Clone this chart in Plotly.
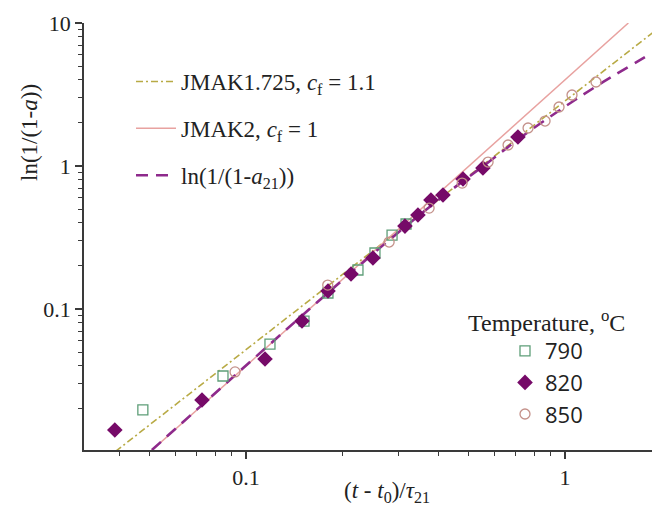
import plotly.graph_objects as go
import numpy as np

# ---- data ----
# 790 °C (open squares)
x790 = [0.0475, 0.0847, 0.1189, 0.152, 0.1807, 0.2244, 0.2537, 0.287, 0.3175]
y790 = [0.0197, 0.0340, 0.0569, 0.0824, 0.1294, 0.1874, 0.2464, 0.329, 0.393]
# 820 °C (filled diamonds)
x820 = [0.0388, 0.0728, 0.1147, 0.1498, 0.1808, 0.2134, 0.250, 0.315, 0.346, 0.380, 0.4145, 0.479, 0.553, 0.712]
y820 = [0.01426, 0.0231, 0.0447, 0.0824, 0.1336, 0.1757, 0.2274, 0.380, 0.454, 0.578, 0.627, 0.811, 0.968, 1.595]
# 850 °C (open circles)
x850 = [0.0924, 0.1804, 0.281, 0.375, 0.476, 0.574, 0.663, 0.766, 0.866, 0.958, 1.052, 1.251]
y850 = [0.0363, 0.147, 0.294, 0.508, 0.760, 1.066, 1.403, 1.844, 2.063, 2.585, 3.137, 3.868]

# model lines
x_jmak1725 = [0.039, 2.0]
y_jmak1725 = [0.0101, 9.5]
x_jmak2 = [0.05, 1.58]
y_jmak2 = [0.01, 10.0]
x_a21 = [0.0507, 0.1029, 0.1834, 0.3040, 0.4361, 0.5820, 0.7226, 0.9645, 1.287, 1.874]
y_a21 = [0.01033, 0.0426, 0.1336, 0.3511, 0.6686, 1.084, 1.570, 2.464, 3.745, 6.17]

x_ticks = [0.1, 1]
x_ticktext = ["0.1", "1"]
y_ticks = [0.1, 1, 10]
y_ticktext = ["0.1", "1", "10"]

SERIF = "Liberation Serif"
SANS = "Open Sans"
INK = "#222"

fig = go.Figure()

fig.add_trace(go.Scatter(x=x_jmak1725, y=y_jmak1725, mode="lines",
                         line=dict(color="#B8AA45", width=1.6, dash="7px,3px,2px,3px"),
                         name="JMAK1.725, <i>c</i><sub>f</sub> = 1.1",
                         legend="legend", legendgroup="a"))
fig.add_trace(go.Scatter(x=x_jmak2, y=y_jmak2, mode="lines",
                         line=dict(color="#E8A2A0", width=1.5),
                         name="JMAK2, <i>c</i><sub>f</sub> = 1",
                         legend="legend", legendgroup="b"))
fig.add_trace(go.Scatter(x=x_a21, y=y_a21, mode="lines",
                         line=dict(color="#8E2A8C", width=2.6, dash="12px,8px", shape="spline"),
                         name="ln(1/(1-<i>a</i><sub>21</sub>))",
                         legend="legend", legendgroup="c"))

fig.add_trace(go.Scatter(x=x790, y=y790, mode="markers", name="790",
                         marker=dict(symbol="square-open", size=10, color="#5E9E78",
                                     line=dict(width=1.3, color="#5E9E78")),
                         legend="legend2"))
fig.add_trace(go.Scatter(x=x820, y=y820, mode="markers", name="820",
                         marker=dict(symbol="diamond", size=12, color="#760A68"),
                         legend="legend2"))
fig.add_trace(go.Scatter(x=x850, y=y850, mode="markers", name="850",
                         marker=dict(symbol="circle-open", size=10, color="#C4918A",
                                     line=dict(width=1.3, color="#C4918A")),
                         legend="legend2"))

axis_common = dict(
    type="log", showline=True, linecolor="#3a3a3a", linewidth=1.5,
    ticks="outside", ticklen=7, tickwidth=1.5, tickcolor="#3a3a3a",
    showgrid=False, zeroline=False, mirror=False,
    tickfont=dict(family=SERIF, size=22, color=INK),
    minor=dict(ticks="outside", ticklen=4, tickwidth=1.2, tickcolor="#3a3a3a",
               dtick="D1", showgrid=False),
)

fig.update_xaxes(**axis_common, range=[np.log10(0.03106), np.log10(1.874)],
                 tickvals=x_ticks, ticktext=x_ticktext, dtick=1)
fig.update_yaxes(**axis_common, range=[np.log10(0.01033), 1.0],
                 tickvals=y_ticks, ticktext=y_ticktext, dtick=1)

W, H = 652, 509
l, r, t, b = 84, 0, 23, 59
pw, ph = W - l - r, H - t - b


def px2paper(px, py):
    return (px - l) / pw, (H - b - py) / ph


lx, ly = px2paper(131, 60)
l2x, l2y = px2paper(505, 330)

fig.update_layout(
    width=W, height=H,
    margin=dict(l=l, r=r, t=t, b=b),
    plot_bgcolor="white", paper_bgcolor="white",
    font=dict(family=SERIF, size=20, color=INK),
    legend=dict(x=lx, y=ly, xanchor="left", yanchor="top",
                bgcolor="rgba(0,0,0,0)", borderwidth=0,
                font=dict(family=SERIF, size=23, color=INK),
                tracegroupgap=14, itemwidth=40),
    legend2=dict(x=l2x, y=l2y, xanchor="left", yanchor="top",
                 bgcolor="rgba(0,0,0,0)", borderwidth=0,
                 font=dict(family=SANS, size=22, color=INK),
                 tracegroupgap=0),
    showlegend=True,
)

ann_specs = [
    ("Temperature, <sup>o</sup>C", 546, 321, 0, 24),
    ("ln(1/(1-<i>a</i>))", 29, 133, -90, 23),
    ("(<i>t</i> - <i>t</i><sub>0</sub>)/<i>τ</i><sub>21</sub>", 387, 492, 0, 23),
]
for text, px, py, ang, size in ann_specs:
    ax_, ay_ = px2paper(px, py)
    fig.add_annotation(text=text, x=ax_, y=ay_, xref="paper", yref="paper",
                       xanchor="center", yanchor="middle", textangle=ang,
                       showarrow=False, font=dict(family=SERIF, size=size, color=INK))

fig.write_html("out.html")
